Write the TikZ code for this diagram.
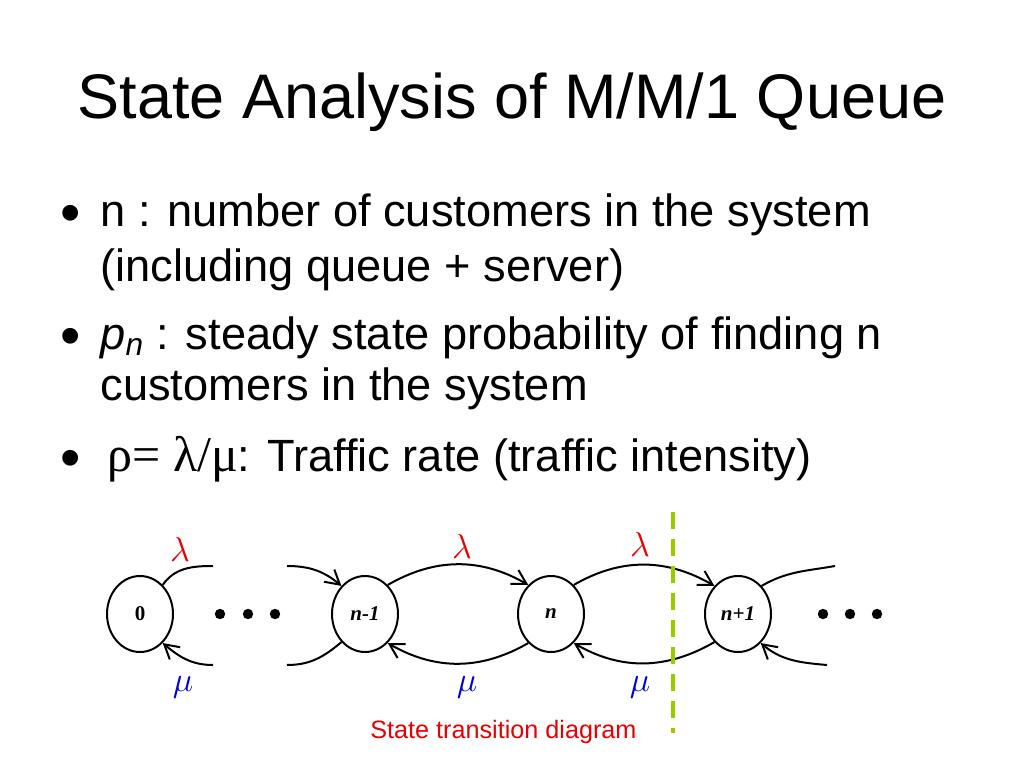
\documentclass[tikz,border=0pt]{standalone}
\usepackage{fontspec}
\setmainfont{Liberation Sans}
\newfontfamily\symfont{Liberation Serif}
\usetikzlibrary{shapes.geometric, arrows.meta}
\definecolor{cutgreen}{HTML}{99CC00}
\definecolor{lamred}{HTML}{E80000}
\definecolor{mublue}{HTML}{0000DD}

\begin{document}
\begin{tikzpicture}[x=0.5pt, y=0.5pt,
    state/.style={draw, ellipse, line width=1pt, minimum width=33pt, minimum height=38pt,
        inner sep=0pt, font=\symfont\bfseries\itshape\fontsize{10.5}{10.5}\selectfont},
    trans/.style={line width=1pt, -{Straight Barb[length=7pt,width=8pt]}},
    arc/.style={line width=1pt},
    lam/.style={text=lamred, font=\fontsize{19}{19}\selectfont},
    mu/.style={text=mublue, font=\fontsize{19}{19}\selectfont},
    bullet/.style={anchor=base west, inner sep=0pt, font=\fontsize{22.6}{22.6}\selectfont}]
    \useasboundingbox (0,0) rectangle (1024,768);

    % slide text
    \node[anchor=base, inner sep=0pt, font=\fontsize{31.5}{31.5}\selectfont] (title) at (512,650)
        {State Analysis of M/M/1 Queue};
    \foreach \Y in {542, 419, 297}{
        \node[bullet, font=\fontsize{29}{29}\selectfont] at (60,\Y-6) {•};
    }
    \node[bullet] (t1) at (100,542) {n : number of customers in the system};
    \node[bullet] (t2) at (100,487) {(including queue + server)};
    \node[bullet] (t3) at (100,419) {\textit{p}\textsubscript{\textit{n}} : steady state probability of finding n};
    \node[bullet] (t4) at (100,368) {customers in the system};
    \node[bullet] (t5) at (107,297) {{\symfont\fontsize{25}{25}\selectfont ρ= λ/μ}: Traffic rate (traffic intensity)};

    % states
    \node[state] (s0) at (140,154) {\upshape 0};
    \node[state] (s1) at (365,154) {n-1};
    \node[state] (s2) at (551,154) {n};
    \node[state] (s3) at (738,154) {n+1};
    \coordinate (a0) at (213,202);
    \coordinate (m0) at (213,103);
    \coordinate (a1) at (287,202);
    \coordinate (m1) at (287,103);
    \coordinate (a4) at (835,202);
    \coordinate (m4) at (827,103);

    % transitions
    \draw[arc] (s0.52) to[out=55, in=180] (a0);
    \draw[trans] (m0) to[out=180, in=-40] (s0.-52);
    \draw[trans] (a1) to[out=0, in=140] (s1.130);
    \draw[arc] (s1.-130) to[out=-140, in=0] (m1);
    \draw[trans] (s1.52) to[out=30, in=150] (s2.128);
    \draw[trans] (s2.-128) to[out=-150, in=-30] (s1.-52);
    \draw[trans] (s2.52) to[out=30, in=150] (s3.130);
    \draw[trans] (s3.-130) to[out=-150, in=-30] (s2.-52);
    \draw[arc] (s3.50) to[out=30, in=190] (a4);
    \draw[trans] (m4) to[out=175, in=-40] (s3.-52);

    % rates
    \node[lam] (l0) at (180,219) {$\lambda$};
    \node[lam] (l1) at (462,222) {$\lambda$};
    \node[lam] (l2) at (640,224) {$\lambda$};
    \node[mu] (u0) at (183,81) {$\mu$};
    \node[mu] (u1) at (467,81) {$\mu$};
    \node[mu] (u2) at (640,81) {$\mu$};

    \foreach \x in {220, 248, 275, 823, 850, 877}{
        \fill (\x,154) circle[radius=2.6pt];
    }

    % cut
    \coordinate (cuttop) at (673,256);
    \coordinate (cutbot) at (673,35);
    \draw[cutgreen, line width=2pt, dash pattern=on 8.5pt off 5pt] (cuttop) -- (cutbot);
    \node[anchor=base west, inner sep=0pt, text=lamred, font=\fontsize{12.6}{12.6}\selectfont] (caption)
        at (370,30) {State transition diagram};
\end{tikzpicture}
\end{document}
